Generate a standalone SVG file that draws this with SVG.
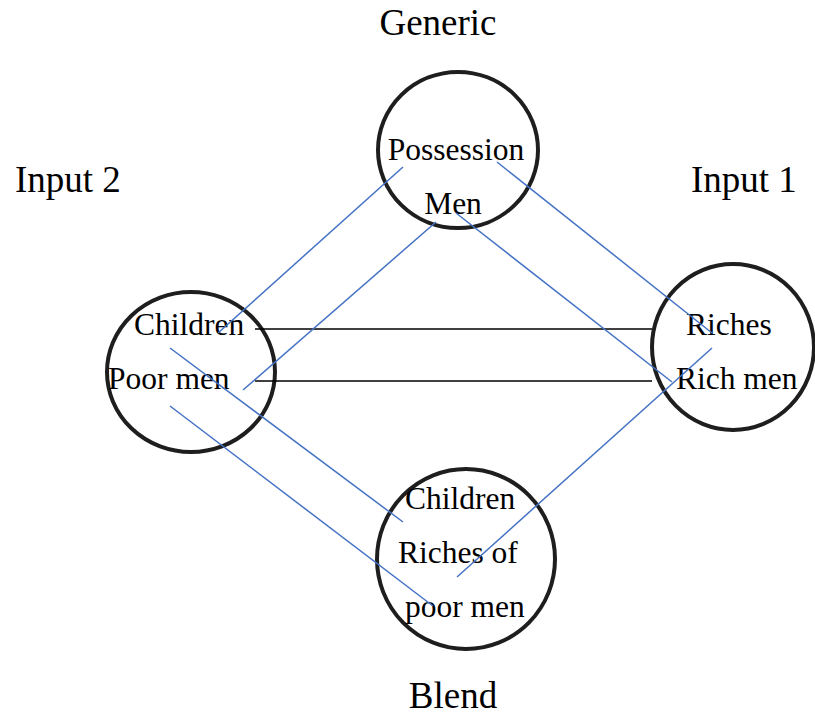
<svg xmlns="http://www.w3.org/2000/svg" width="815" height="717" viewBox="0 0 815 717">
<style>
.c{fill:none;stroke:#1e1e1e;stroke-width:4}
.t{font-family:"Liberation Serif","Times New Roman",serif;font-size:31.5px;fill:#000}
.h{font-family:"Liberation Serif","Times New Roman",serif;font-size:37px;fill:#000}
.b{stroke:#4472C4;stroke-width:1.5;fill:none}
.k{stroke:#000;stroke-width:1.5;fill:none}
</style>
<rect width="815" height="717" fill="#fff"/>
<g id="labels">
<text class="h" x="438" y="35" text-anchor="middle">Generic</text>
<text class="h" x="15" y="192">Input 2</text>
<text class="h" x="691" y="192">Input 1</text>
<text class="h" x="453" y="708" text-anchor="middle">Blend</text>
</g>
<g id="generic">
<ellipse class="c" cx="458" cy="150" rx="80" ry="78"/>
<text class="t" x="456" y="160" text-anchor="middle">Possession</text>
<text class="t" x="453" y="214" text-anchor="middle">Men</text>
</g>
<g id="input2">
<ellipse class="c" cx="191" cy="372" rx="84" ry="80"/>
<text class="t" x="134" y="335">Children</text>
<text class="t" x="108" y="389">Poor men</text>
</g>
<g id="input1">
<ellipse class="c" cx="733" cy="347" rx="81" ry="83"/>
<text class="t" x="686" y="335">Riches</text>
<text class="t" x="676" y="389">Rich men</text>
</g>
<g id="blend">
<ellipse class="c" cx="466" cy="559" rx="89" ry="90"/>
<text class="t" x="405" y="509">Children</text>
<text class="t" x="398" y="563">Riches of</text>
<text class="t" x="405" y="617">poor men</text>
</g>
<g id="connectors">
<line class="k" x1="255" y1="329" x2="652" y2="329"/>
<line class="k" x1="255" y1="381" x2="652" y2="381"/>
<line class="b" x1="403" y1="167" x2="218" y2="333"/>
<line class="b" x1="436" y1="222" x2="243" y2="390"/>
<line class="b" x1="497" y1="162" x2="712" y2="333"/>
<line class="b" x1="456" y1="213" x2="672" y2="382"/>
<line class="b" x1="712" y1="348" x2="457" y2="577"/>
<line class="b" x1="170" y1="348" x2="403" y2="522"/>
<line class="b" x1="170" y1="406" x2="433" y2="606"/>
</g>
</svg>
